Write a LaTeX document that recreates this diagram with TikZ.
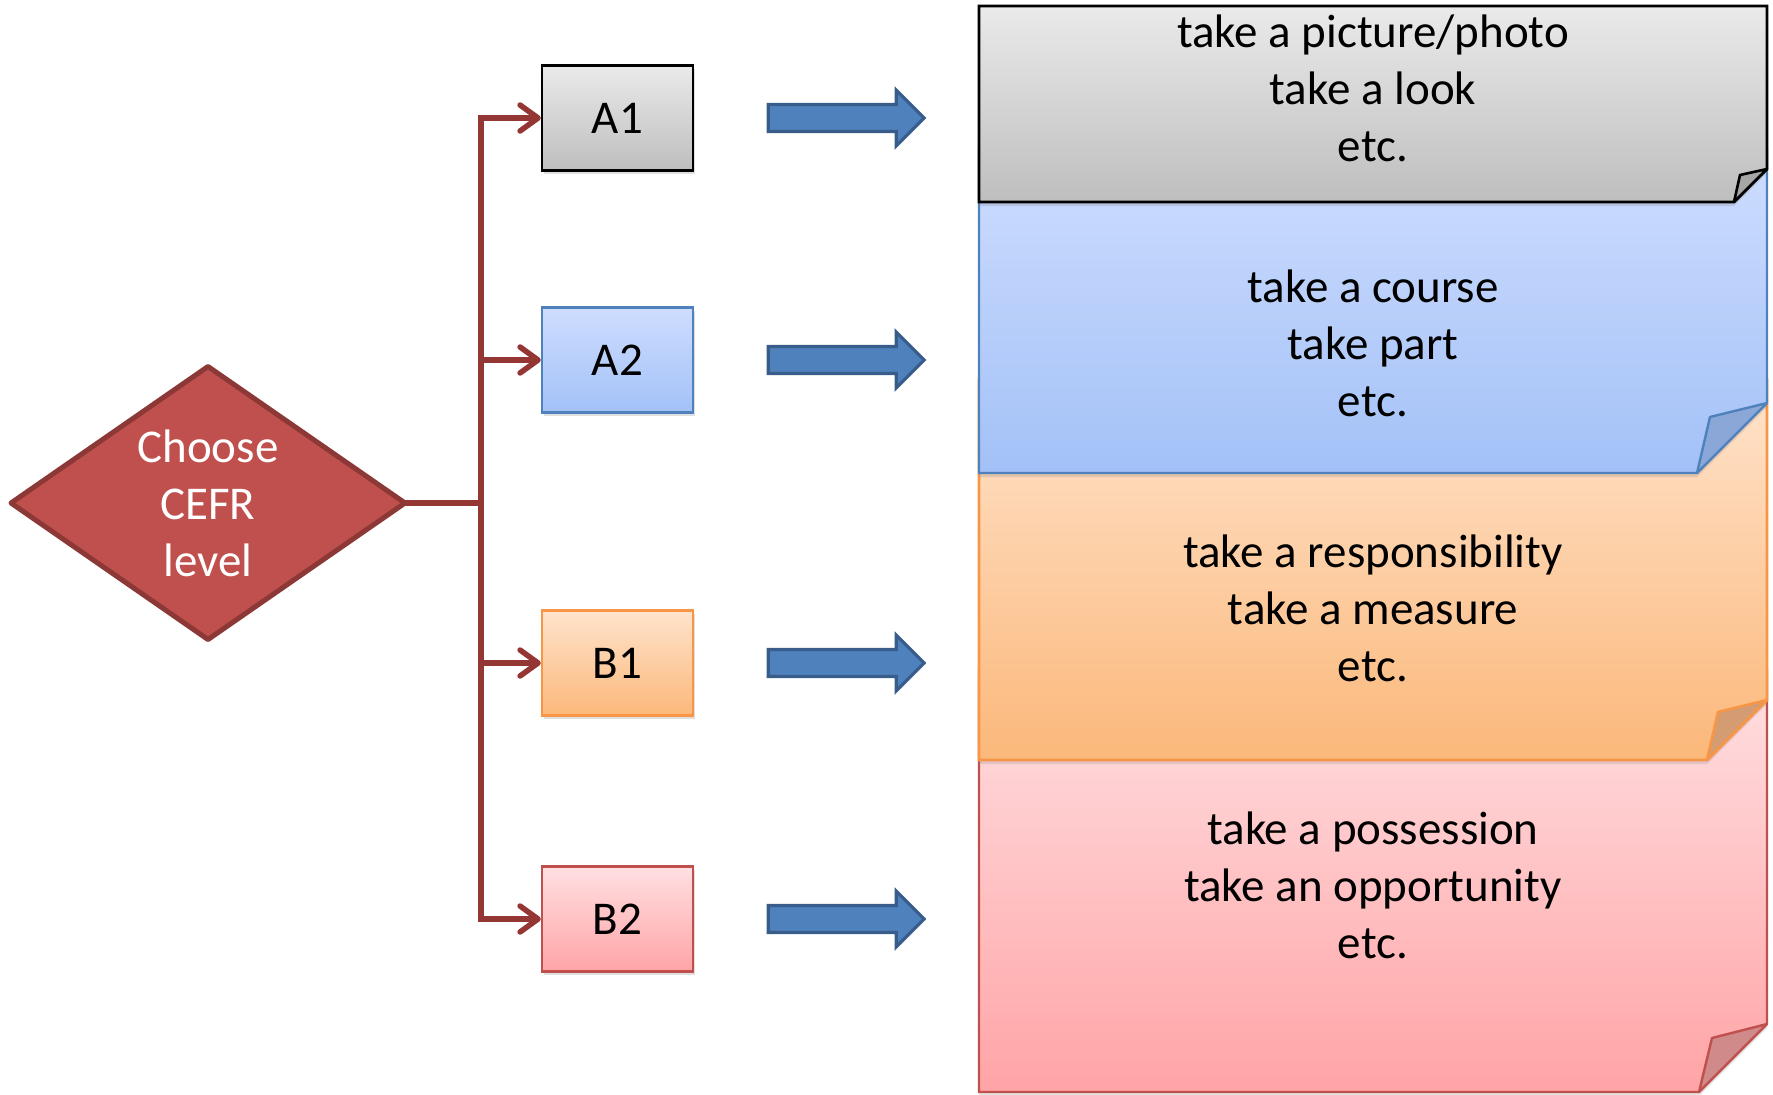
\documentclass[tikz,border=0pt]{standalone}
\usepackage{fontspec}
\setmainfont{Carlito}
\usetikzlibrary{shapes.geometric,arrows.meta,shadows}

\definecolor{connred}{HTML}{943634}
\definecolor{diafill}{HTML}{C0504D}
\definecolor{diadraw}{HTML}{8C3836}
\definecolor{arrfill}{HTML}{4F81BD}
\definecolor{arrdraw}{HTML}{385D8A}
\definecolor{grayT}{HTML}{EAEAEA}
\definecolor{grayB}{HTML}{BEBEBE}
\definecolor{grayF}{HTML}{A6A6A6}
\definecolor{blueT}{HTML}{CEDDFE}
\definecolor{blueB}{HTML}{A3C1F7}
\definecolor{blueD}{HTML}{4F81BD}
\definecolor{blueF}{HTML}{8BA7D7}
\definecolor{oranT}{HTML}{FFE3CC}
\definecolor{oranB}{HTML}{FBB87A}
\definecolor{oranD}{HTML}{F79646}
\definecolor{oranF}{HTML}{D39C72}
\definecolor{pinkT}{HTML}{FFE0E2}
\definecolor{pinkB}{HTML}{FFA4A6}
\definecolor{pinkD}{HTML}{C0504D}
\definecolor{pinkF}{HTML}{D08A8A}

\newcommand\fatarrow[1]{%
  \path[fatarrow,shift={(#1.east)}] (74,-13.5) -- (202,-13.5) -- (202,-28)
    -- (230,0) -- (202,28) -- (202,13.5) -- (74,13.5) -- cycle;}

\begin{document}
\begin{tikzpicture}[x=1pt,y=-1pt,
  bigfont/.style={font=\fontsize{47pt}{57pt}\selectfont},
  paneltext/.style={bigfont,align=center,inner sep=0pt},
  lvl/.style={rectangle,minimum width=151pt,minimum height=105pt,inner sep=0pt,
    line width=2.4pt,bigfont,
    drop shadow={shadow xshift=2pt,shadow yshift=-3pt,opacity=0.25}},
  conn/.style={draw=connred,line width=5.5pt},
  branch/.style={conn,-{Straight Barb[length=18pt,width=26pt,round]}},
  fatarrow/.style={fill=arrfill,draw=arrdraw,line width=3.2pt},
  panelshadow/.style={drop shadow={shadow xshift=0pt,shadow yshift=-4pt,opacity=0.22}},
]
\useasboundingbox (0,0) rectangle (1773,1095);

% ---- folded note panels, drawn from the bottom one up ----
\path[panelshadow,top color=pinkT,bottom color=pinkB,draw=pinkD,line width=2.4pt]
  (979,670) -- (1767,670) -- (1767,1024) -- (1699,1092) -- (979,1092) -- cycle;
\path[fill=pinkF,draw=pinkD,line width=2.4pt,line join=round]
  (1767,1024) -- (1712,1038) -- (1699,1092) -- cycle;

\path[panelshadow,top color=oranT,bottom color=oranB,draw=oranD,line width=2.6pt]
  (979,380) -- (1767,380) -- (1767,700) -- (1707,760) -- (979,760) -- cycle;
\path[fill=oranF,draw=oranD,line width=2.6pt,line join=round]
  (1767,700) -- (1718,712) -- (1707,760) -- cycle;

\path[panelshadow,top color=blueT,bottom color=blueB,draw=blueD,line width=2.4pt]
  (979,150) -- (1767,150) -- (1767,403) -- (1697,473) -- (979,473) -- cycle;
\path[fill=blueF,draw=blueD,line width=2.4pt,line join=round]
  (1767,403) -- (1710,417) -- (1697,473) -- cycle;

\path[panelshadow,top color=grayT,bottom color=grayB,draw=black,line width=2.6pt]
  (979,6) -- (1767,6) -- (1767,169) -- (1734,202) -- (979,202) -- cycle;
\path[fill=grayF,draw=black,line width=2.6pt,line join=round]
  (1767,169) -- (1740,175) -- (1734,202) -- cycle;

% ---- panel texts ----
\node[paneltext] (tA1) at (1373,88)  {take a picture/photo\\take a look\\etc.};
\node[paneltext] (tA2) at (1373,343) {take a course\\take part\\etc.};
\node[paneltext] (tB1) at (1373,608) {take a responsibility\\take a measure\\etc.};
\node[paneltext] (tB2) at (1373,885) {take a possession\\take an opportunity\\etc.};

% ---- decision diamond ----
\node[diamond,aspect=1.44,minimum width=394pt,minimum height=273pt,inner sep=0pt,
  outer sep=0pt,fill=diafill,draw=diadraw,line width=5pt,line join=round,
  text=white,bigfont,align=center] (dia) at (208,503) {Choose\\CEFR\\level};

% ---- level boxes ----
\node[lvl,top color=grayT,bottom color=grayB,draw=black] (A1) at (617.5,118) {A1};
\node[lvl,top color=blueT,bottom color=blueB,draw=blueD] (A2) at (617.5,360) {A2};
\node[lvl,top color=oranT,bottom color=oranB,draw=oranD] (B1) at (617.5,663) {B1};
\node[lvl,top color=pinkT,bottom color=pinkB,draw=pinkD] (B2) at (617.5,919) {B2};

% ---- connectors ----
\coordinate (trunk) at (481,503);
\draw[conn] (dia.east) -- (trunk);
\draw[branch] (trunk) |- (A1.west);
\draw[branch] (trunk) |- (A2.west);
\draw[branch] (trunk) |- (B1.west);
\draw[branch] (trunk) |- (B2.west);

% ---- block arrows towards the panels ----
\fatarrow{A1}
\fatarrow{A2}
\fatarrow{B1}
\fatarrow{B2}
\end{tikzpicture}
\end{document}
